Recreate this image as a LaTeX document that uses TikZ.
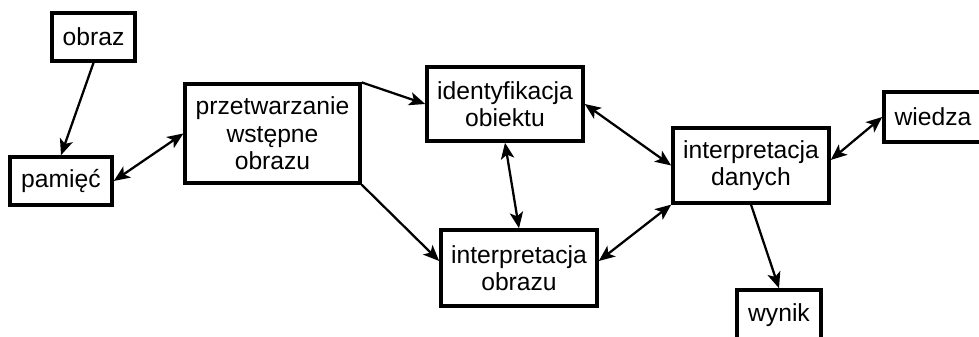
\documentclass[tikz,border=0pt]{standalone}
\usepackage{fontspec}
\setmainfont{Liberation Sans}
\usetikzlibrary{arrows.meta}

\begin{document}
\begin{tikzpicture}[x=0.75pt,y=0.75pt,yscale=-1,xscale=1,
	blok/.style={draw, line width=2.7pt, align=center, inner sep=0.75pt, font=\fontsize{18.5}{20.5}\selectfont},
	grot/.tip={Stealth[length=12pt,width=10pt,inset=3pt]},
	strz/.style={line width=1.7pt, -grot},
	dwustrz/.style={line width=1.7pt, grot-grot}]
	%set diagram left start at 0, and has height of 336
	\useasboundingbox (0,0) rectangle (979,336);

	% Text Node
	\node [blok, minimum width=62pt, minimum height=36pt] (obraz) at (93.5,37) {obraz};
	% Text Node
	\node [blok, minimum width=76.5pt, minimum height=36pt] (pamiec) at (61,181) {pamięć};
	% Text Node
	\node [blok, minimum width=131pt, minimum height=74pt] (przetw) at (272.5,133.5) {przetwarzanie\\wstępne\\obrazu};
	% Text Node
	\node [blok, minimum width=117pt, minimum height=55.5pt] (ident) at (505,104) {identyfikacja\\obiektu};
	% Text Node
	\node [blok, minimum width=117pt, minimum height=57pt] (iobr) at (519,268) {interpretacja\\obrazu};
	% Text Node
	\node [blok, minimum width=117pt, minimum height=56pt] (idan) at (751,165.5) {interpretacja\\danych};
	% Text Node
	\node [blok, minimum width=73.5pt, minimum height=37.5pt] (wiedza) at (933,117) {wiedza};
	% Text Node
	\node [blok, minimum width=63pt, minimum height=37.5pt] (wynik) at (779,315) {wynik};

	%Straight Lines
	\draw [strz] (obraz.south) -- (pamiec.north);
	%Straight Lines
	\draw [dwustrz] (pamiec.east) -- (przetw.west);
	%Straight Lines
	\draw [strz] (przetw.north east) -- (ident.west);
	%Straight Lines
	\draw [strz] (przetw.south east) -- (iobr.175);
	%Straight Lines
	\draw [dwustrz] (ident.south) -- (iobr.north);
	%Straight Lines
	\draw [dwustrz] (ident.east) -- (idan.west);
	%Straight Lines
	\draw [dwustrz] (iobr.5) -- (idan.south west);
	%Straight Lines
	\draw [dwustrz] (idan.4) -- (wiedza.west);
	%Straight Lines
	\draw [strz] (idan.south) -- (wynik.north);

\end{tikzpicture}
\end{document}
